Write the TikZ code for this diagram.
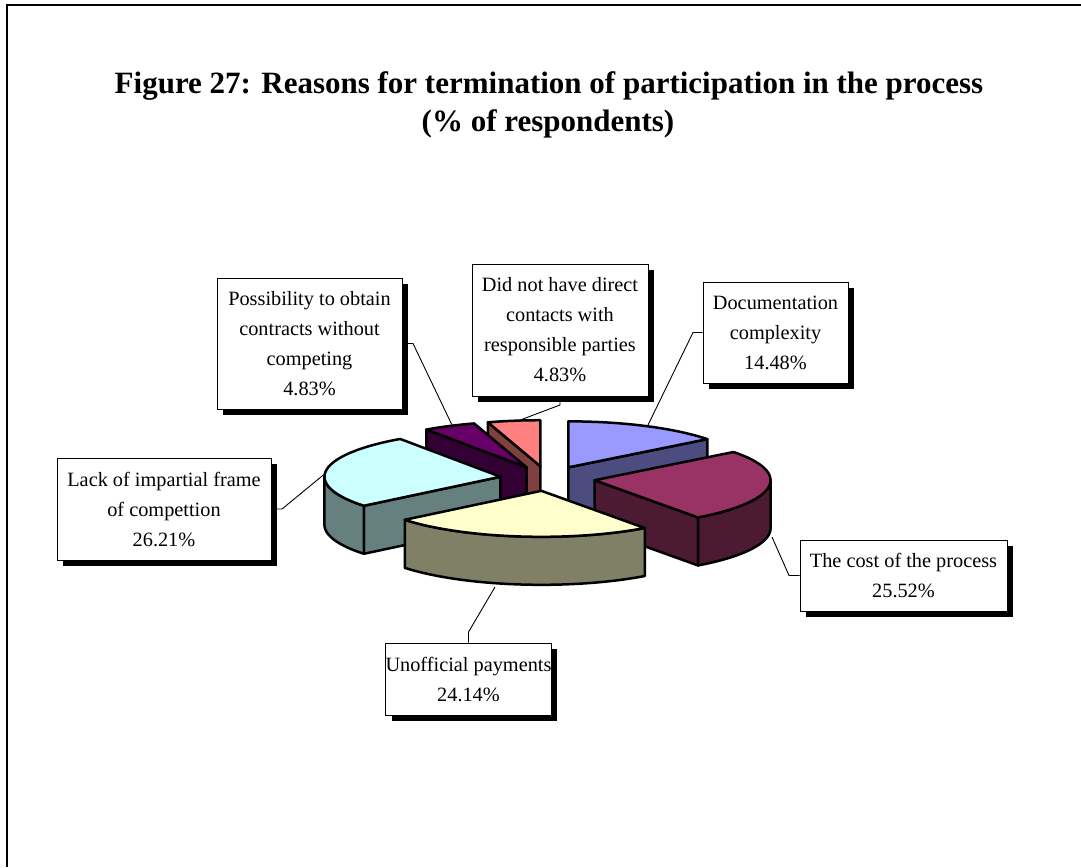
\documentclass[tikz,border=0pt]{standalone}
\usepackage{fontspec}
\setmainfont{Liberation Serif}
\usetikzlibrary{shadows}
\definecolor{docTop}{HTML}{9999FF}
\definecolor{docSide}{HTML}{4C4C80}
\definecolor{costTop}{HTML}{993366}
\definecolor{costSide}{HTML}{4D1A33}
\definecolor{payTop}{HTML}{FFFFCC}
\definecolor{paySide}{HTML}{808066}
\definecolor{lackTop}{HTML}{CCFFFF}
\definecolor{lackSide}{HTML}{668080}
\definecolor{possTop}{HTML}{660066}
\definecolor{possSide}{HTML}{330033}
\definecolor{didTop}{HTML}{FF8080}
\definecolor{didSide}{HTML}{804040}
\newcommand{\PieApex}[2]{%
  \pgfmathsetmacro{\pmid}{(#1+#2)/2}%
  \pgfmathsetmacro{\pcx}{547.5+0.27*176*sin(\pmid)}%
  \pgfmathsetmacro{\pcy}{478.5-0.27*46*cos(\pmid)}%
}
\newcommand{\PieTop}[3]{%
  \filldraw[piece,fill=#3] (\pcx,\pcy) -- plot[domain=#1:#2,samples=40] ({\pcx+176*sin(\x)},{\pcy-46*cos(\x)}) -- cycle;}
\newcommand{\PieWall}[3]{%
  \filldraw[piece,fill=#3] plot[domain=#1:#2,samples=40] ({\pcx+176*sin(\x)},{\pcy-46*cos(\x)}) -- plot[domain=#2:#1,samples=40] ({\pcx+176*sin(\x)},{\pcy+48-46*cos(\x)}) -- cycle;}
\newcommand{\PieFace}[2]{%
  \filldraw[piece,fill=#2] (\pcx,\pcy) -- ({\pcx+176*sin(#1)},{\pcy-46*cos(#1)}) -- ({\pcx+176*sin(#1)},{\pcy+48-46*cos(#1)}) -- (\pcx,{\pcy+48}) -- cycle;}
\begin{document}
\begin{tikzpicture}[x=1pt,y=-1pt,
  piece/.style={draw=black,line width=2.5pt,line join=round},
  lbl/.style={draw=black,line width=0.9pt,fill=white,align=center,inner sep=0pt,
    font=\fontsize{20.3}{30}\selectfont,
    drop shadow={shadow xshift=6pt,shadow yshift=-6pt,fill=black,opacity=1}},
  lead/.style={draw=black,line width=0.9pt},
  ttl/.style={font=\fontsize{31}{36}\selectfont\bfseries,inner sep=0pt}]
\useasboundingbox (0,0) rectangle (1081,867);
\draw[line width=2pt] (7,867) -- (7,5.5) -- (1081,5.5);
% title
\node[ttl] (t1) at (549,86) {Figure 27: Reasons for termination of participation in the process};
\node[ttl] (t2) at (548,124) {(\% of respondents)};
% labels
\node[lbl,minimum width=185pt,minimum height=131pt] (poss) at (309.5,343.5) {Possibility to obtain\\contracts without\\competing\\4.83\%};
\node[lbl,minimum width=176pt,minimum height=132pt] (did) at (560,330) {Did not have direct\\contacts with\\responsible parties\\4.83\%};
\node[lbl,minimum width=145pt,minimum height=101pt] (doc) at (775.5,332.5) {Documentation\\complexity\\14.48\%};
\node[lbl,minimum width=214pt,minimum height=102pt] (lack) at (164,509) {Lack of impartial frame\\of compettion\\26.21\%};
\node[lbl,minimum width=207pt,minimum height=71pt] (cost) at (903.5,575.5) {The cost of the process\\25.52\%};
\node[lbl,minimum width=151pt,minimum height=72pt] (pay) at (468.5,679) {Unofficial payments\\24.14\%};
% leader points
\coordinate (kposs) at (413,343.5);  \coordinate (eposs) at (452,425);
\coordinate (kdid) at (560,405);     \coordinate (edid) at (515,422);
\coordinate (kdoc) at (693,332.5);   \coordinate (edoc) at (648,425);
\coordinate (klack) at (282,509);    \coordinate (elack) at (327,472);
\coordinate (kcost) at (789,575.5);  \coordinate (ecost) at (772,537);
\coordinate (kpay) at (468.5,632);   \coordinate (epay) at (495,587);
\draw[lead] (poss.east) -- (kposs) -- (eposs);
\draw[lead] (did.south) -- (kdid) -- (edid);
\draw[lead] (doc.west) -- (kdoc) -- (edoc);
\draw[lead] (lack.east) -- (klack) -- (elack);
\draw[lead] (cost.west) -- (kcost) -- (ecost);
\draw[lead] (pay.north) -- (kpay) -- (epay);
% pie: back to front
\PieApex{342.648}{360}
\PieFace{342.648}{didSide}
\PieTop{342.648}{360}{didTop}
\PieApex{325.26}{342.648}
\PieFace{325.26}{possSide}
\PieTop{325.26}{342.648}{possTop}
\PieApex{0}{52.128}
\PieFace{52.128}{docSide}
\PieTop{0}{52.128}{docTop}
\PieApex{230.904}{325.26}
\PieFace{230.904}{lackSide}
\PieWall{230.904}{270}{lackSide}
\PieTop{230.904}{325.26}{lackTop}
\PieApex{52.128}{144}
\PieFace{144}{costSide}
\PieWall{90}{144}{costSide}
\PieTop{52.128}{144}{costTop}
\PieApex{144}{230.904}
\PieWall{144}{230.904}{paySide}
\PieTop{144}{230.904}{payTop}
\end{tikzpicture}
\end{document}
